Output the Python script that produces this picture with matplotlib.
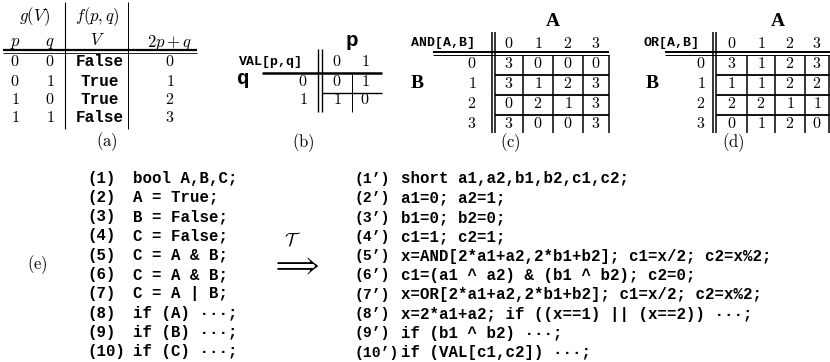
import matplotlib
matplotlib.use("Agg")
import matplotlib.pyplot as plt

plt.rcParams['mathtext.fontset'] = 'cm'

# table (a)
p_vals = [0, 0, 1, 1]
q_vals = [0, 1, 0, 1]
v_vals = ["False", "True", "True", "False"]
idx_vals = [0, 1, 2, 3]

# table (b): VAL[p,q], rows q, cols p
val_table = [[0, 1],
             [1, 0]]

# tables (c), (d): rows B, cols A
and_table = [[3, 0, 0, 0],
             [3, 1, 2, 3],
             [0, 2, 1, 3],
             [3, 0, 0, 3]]
or_table = [[3, 1, 2, 3],
            [1, 1, 2, 2],
            [2, 2, 1, 1],
            [0, 1, 2, 0]]

# code (e)
labels_left = ["(1)", "(2)", "(3)", "(4)", "(5)", "(6)", "(7)", "(8)", "(9)", "(10)"]
code_left = ["bool A,B,C;", "A = True;", "B = False;", "C = False;", "C = A & B;",
             "C = A & B;", "C = A | B;", "if (A) \u00b7\u00b7\u00b7;", "if (B) \u00b7\u00b7\u00b7;",
             "if (C) \u00b7\u00b7\u00b7;"]
labels_right = ["(1\u2019)", "(2\u2019)", "(3\u2019)", "(4\u2019)", "(5\u2019)", "(6\u2019)",
                "(7\u2019)", "(8\u2019)", "(9\u2019)", "(10\u2019)"]
code_right = ["short a1,a2,b1,b2,c1,c2;",
              "a1=0; a2=1;",
              "b1=0; b2=0;",
              "c1=1; c2=1;",
              "x=AND[2*a1+a2,2*b1+b2]; c1=x/2; c2=x%2;",
              "c1=(a1 ^ a2) & (b1 ^ b2); c2=0;",
              "x=OR[2*a1+a2,2*b1+b2]; c1=x/2; c2=x%2;",
              "x=2*a1+a2; if ((x==1) || (x==2)) \u00b7\u00b7\u00b7;",
              "if (b1 ^ b2) \u00b7\u00b7\u00b7;",
              "if (VAL[c1,c2]) \u00b7\u00b7\u00b7;"]

MONO = "Liberation Mono"

fig = plt.figure(figsize=(8.3, 3.62), dpi=100)
ax = fig.add_axes([0, 0, 1, 1])
ax.set_xlim(0, 830)
ax.set_ylim(362, 0)
ax.axis('off')


def line(x0, y0, x1, y1, lw=0.8):
    ax.plot([x0, x1], [y0, y1], color='k', lw=lw, solid_capstyle='butt')


def num(x, y, v, size=11.5):
    ax.text(x, y, f'${v}$', ha='center', va='center', fontsize=size)


def tt(x, y, s, size=11, ha='center'):
    ax.text(x, y, s, ha=ha, va='center', fontsize=size, family=MONO, fontweight='bold')


# ---- (a) ----
ax.text(35, 17, r'$g(V)$', ha='center', va='center', fontsize=12)
ax.text(97, 17, r'$f(p,q)$', ha='center', va='center', fontsize=12)
ax.text(15, 42, r'$p$', ha='center', va='center', fontsize=12)
ax.text(50, 42, r'$q$', ha='center', va='center', fontsize=12)
ax.text(97, 40, r'$V$', ha='center', va='center', fontsize=12)
ax.text(170, 42, r'$2p+q$', ha='center', va='center', fontsize=12)
line(65, 2, 65, 129)
line(128, 2, 128, 129, lw=0.7)
line(3, 49.5, 197, 49.5, lw=1.6)
line(3, 52.5, 197, 52.5, lw=0.6)
for i, y in enumerate([62, 81, 100, 118]):
    num(15, y, p_vals[i])
    num(50, y, q_vals[i])
    tt(100, y, v_vals[i], size=11.5)
    num(170, y, idx_vals[i])
ax.text(107, 142, r'$\mathrm{(a)}$', ha='center', va='center', fontsize=12)

# ---- (b) ----
tt(352, 40, "p", size=15)
tt(243, 78, "q", size=15)
tt(271, 62, "VAL[p,q]", size=9.5)
bx = [337, 365]
by = [82, 100]
for j in range(2):
    num(bx[j], 62, j)
for i in range(2):
    num(303, by[i], i)
    for j in range(2):
        num(bx[j], by[i], val_table[i][j])
line(318, 49, 318, 112, lw=1.0)
line(322, 49, 322, 112, lw=1.0)
line(262, 73, 382, 73, lw=1.8)
line(352, 73, 352, 112, lw=0.7)
line(322, 92.5, 382, 92.5, lw=1.0)
ax.text(303, 143, r'$\mathrm{(b)}$', ha='center', va='center', fontsize=12)


# ---- (c), (d) ----
def grid_table(name, data, x_lab, x_name, x_b, x_dbl, x_cells, x_right, x_hline0, x_a, x_sub, sub):
    ys = [63, 83, 103, 123]
    xc = [(x_cells[k] + x_cells[k + 1]) / 2 for k in range(4)]
    ax.text(x_a, 22, "A", ha='center', va='center', fontsize=14,
            family="Liberation Serif", fontweight='bold')
    ax.text(x_b, 83, "B", ha='center', va='center', fontsize=14,
            family="Liberation Serif", fontweight='bold')
    tt(x_name, 43, name, size=9.5)
    for j in range(4):
        num(xc[j], 43, j)
    for i in range(4):
        num(x_lab, ys[i], i)
        for j in range(4):
            num(xc[j], ys[i], data[i][j])
    line(x_dbl, 32, x_dbl, 133, lw=1.1)
    line(x_dbl + 3.5, 32, x_dbl + 3.5, 133, lw=1.1)
    line(x_hline0, 52, x_right, 52, lw=1.4)
    line(x_hline0, 55, x_right, 55, lw=0.7)
    for yl in [74.5, 94.5, 115]:
        line(x_dbl + 3.5, yl, x_right, yl, lw=1.3)
    for xv in x_cells[1:]:
        line(xv, 55, xv, 133, lw=1.1)
    ax.text(x_sub, 143, sub, ha='center', va='center', fontsize=12)


grid_table("AND[A,B]", and_table, 472, 443, 417, 491.5,
           [495, 523, 553, 583, 609], 609, 433, 553, 510, r'$\mathrm{(c)}$')
grid_table("OR[A,B]", or_table, 701, 671, 652, 712.5,
           [716, 747, 775, 805, 829], 830, 665, 778, 733, r'$\mathrm{(d)}$')

# ---- (e) ----
ax.text(37, 265, r'$\mathrm{(e)}$', ha='center', va='center', fontsize=12)
ys = [178 + 19.3 * k for k in range(10)]
for k in range(10):
    tt(87, ys[k], labels_left[k], size=11.3, ha='left')
    tt(133, ys[k], code_left[k], size=11.3, ha='left')
    tt(354, ys[k] + 1, labels_right[k], size=10.6, ha='left')
    tt(401, ys[k] + 1, code_right[k], size=11.3, ha='left')

ax.text(296, 265, r'$\Longrightarrow$', ha='center', va='center', fontsize=20)
ax.text(293, 241, r'$\mathcal{T}$', ha='center', va='center', fontsize=13)

fig.savefig("out.png", dpi=100)
